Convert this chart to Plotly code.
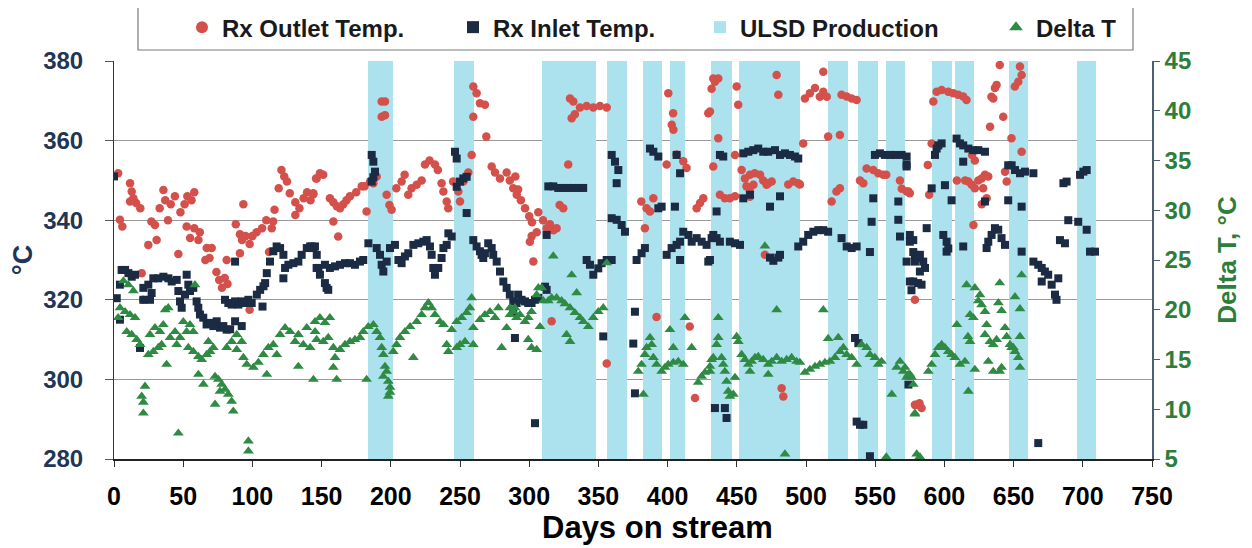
import plotly.graph_objects as go

# ---------------- data ----------------
# ULSD production periods (days on stream)
ulsd_start = [183.5, 245.7, 309.2, 356.2, 382.2, 401.9, 431.4, 451.6, 515.9, 537.6, 557.8, 591.0, 607.7, 646.7, 695.8]
ulsd_end   = [201.6, 260.1, 348.3, 370.7, 396.0, 412.7, 446.5, 495.7, 530.3, 552.0, 571.5, 605.5, 621.4, 660.4, 709.5]

# Rx Outlet Temp. (day, degC)
outlet_points = [
    (3,351.8),(4.3,340.1),(6,338.4),(11.6,349.3),(12.8,347.2),(14,345.5),(11.6,344.7),(16,344.3),(19,343),(20,326.7),
    (21,320),(24.8,333.8),(30.8,335),(27,339.7),(29.6,338.8),(35.7,347.6),(33,343),(37,345),(39,340),(41,344),(44,346),
    (46.5,331.5),(48,342),(51,344),(53,346),(56,345),(58,347),(55,335.5),(52.5,338.4),(58,338),(62,337),(61,335),(67,333),
    (66,330),(69,330.5),(70.6,333),(74,327),(76,325),(80,325.5),(82,324),(78,323),(81.4,330),(93.5,344),(88,339),(91,336.5),
    (92.5,335),(95,336),(98,334),(100,336),(103,337),(107,338),(110,340),(112,332),(98,317.5),(91,331.7),(116,342.6),
    (115,339.7),(114,338),(119,348),(121,352.6),(123,351),(125,349.7),(127,346.8),(131,344.5),(134,343),(137,345.5),
    (139.5,347),(142,345),(144,346.5),(146,350.5),(131,341.3),
    (146.4,350.5),(148.8,351.8),(151.2,351.4),(144,346.8),(156,345.5),(158.5,344.5),(161,343.5),(163.3,343),(165.7,344),
    (168,345),(158.5,339.7),(162,335.9),(170.5,346),(175,347),(179,348.5),(181,348.5),(182.5,342.2),(185,349.7),(187.4,349.3),
    (189.8,351),(193.4,369.8),(195.8,369.8),(193.4,366),(195.8,366.4),(197,346.4),(199,343.8),(200.6,342.6),(204,348),
    (207.8,349.7),(210,351.4),(212.6,346.4),(215,348),(218.7,348.9),(222.3,350),(224.7,354),(228,355),(231.9,354),(234,352.6),
    (236.7,349.3),(238,347.2),(240.4,344.7),(241.5,343),(245,349.7),(248.8,347.2),(250,344.7),(252.4,349.7),(256,352),
    (258.4,356.4),(259.6,373.6),(262,371.9),(264.4,369.4),(268,369),(259.6,366),(269,361),(272.9,353.5),(275.3,352),
    (278.9,350.5),(283.7,352),(286,350),(288.5,348),(291,346.4),
    (290,351),(292,347.7),(294,345),(297,343),(300,341),(302,339.5),(301.8,336),(300.5,334.6),(303,329.6),(306.6,342),
    (310,340),(312.6,338),(315,339),(317.5,337.5),(319.8,338),(305.4,337),(316.2,314.6),(322,343.8),(324.6,343),(328.2,354),
    (329.5,370.6),(331.9,369.8),(333,366.6),(336.7,368.3),(341.5,368.7),(346.3,368.3),(351.1,368.7),(356,368.3),(330.7,365.6),
    (356,304),(381,344.7),(384.8,343),(387.3,342.2),(389.7,345.5),(383.6,338),(392,315.7),(400.5,371.9),(404,366.9),(403,364),
    (404.2,362.7),(399.3,354),(406.5,356.5),(411.3,354.8),(413.7,353.1),(416,313.3),(419.8,295.3),(421,343),(423.4,344.3),
    (425.8,345.5),(429.4,366.9),(431.8,373),(434.2,374.8),
    (433,375.6),(436.6,375.6),(430.6,367.3),(436.6,360.6),(433,353.5),(437.8,346.4),(441.4,345.5),(445,345.5),(448.7,346),
    (448.7,356.4),(449.9,373.6),(451,369),(453.5,352.6),(455.9,350.5),(459.5,351.4),(463,351.8),(466.8,351.4),(469.1,350),
    (472.7,349.3),(475.2,349.7),(457,348.5),(459.5,347.2),(462,348.9),(471.5,348.9),(459.5,345.9),(470.3,331.3),(478.8,376.5),
    (480,371.5),(482.4,297.8),(483.6,295.7),(487.2,349),(490.8,349.7),(494.4,349.3),(495.6,349),(498,359.3),(499.2,370.6),
    (502.8,371.9),(506.5,373.2),(510,371),(512.5,372.3),(515,371),(512.5,377.3),(516,361),(524.5,361.4),(518.5,344.7),
    (522,347.2),(524.5,348),(525.7,371.5),(529.4,371.1),(533,370.6),(536.6,370.2),(539,350),(541.4,349.3),(543.8,353),
    (548.6,352.6),(552.2,351.8),(555.8,351.4),(558,351.4),(567.9,350),(569.2,347.9),(572.8,347.2),(575,346.8),(578.7,320),
    (578.7,293.6),
    (574,347.2),(580.5,293.6),(583.5,292.8),(582,294),(589,346.4),(588,353.9),(590.8,359.3),(592,369.8),(594.4,372.3),
    (598,372.7),(602.8,372.3),(606.4,371.9),(610,371.5),(613.6,371.1),(616,370.2),(609,350),(615,350),(617.3,349.7),
    (619.7,348.9),(622,348),(624.5,350),(626.9,350.5),(629.3,351.4),(631.7,351),(620,356.4),(622,355),(621,338.8),(628,348),
    (630.5,345.5),(627,344),(633,363.5),(635.3,370.6),(636.5,373.2),(640,379),(634,371),(637.7,374),(642.5,366),(643.8,352.2),
    (645,349.7),(648.5,360.6),(650.9,373.6),(654.6,378.6),(655.8,376.5),(655.8,357.2),(653.4,374.8),
]

# Rx Inlet Temp. (day, degC)
inlet_points = [
    (0,351),(2,320.4),(5.5,327.5),(8,327.5),(10.4,326.7),(12.8,325.8),(15.2,326.3),(4.3,323.8),(4.3,315),(18.8,307.9),
    (21.2,323),(24.8,323.8),(28.4,325.4),(32,325.4),(35.7,325.8),(39.3,325.4),(41.7,324.6),(45.3,325),(21.2,320),(26,320),
    (27.2,321.7),(46.5,322.2),(47.7,319.6),(48.9,318),(51.3,321.3),(52.5,326.3),(53.7,323.8),(54.9,322.2),(57.3,323),
    (59.7,319.6),(60.9,318),(62.1,316.3),(64.5,315.5),(66.9,313.8),(69.4,314.2),(71.8,313.4),(74.2,314.6),(76.6,313),
    (79,313.4),(81.4,312.5),(83.9,312.6),(87.5,314.6),(87.5,329.6),(80.2,320),(82.6,319.2),(85,318.8),(87.5,319.6),
    (89.9,318.8),(92.3,319.6),(94.7,319.2),(97.1,320),(99.5,319.2),(103.2,321.3),(105.6,322.5),(108,323.4),(109.2,324.2),
    (110.4,326.7),(92.3,313.4),(107.3,318.3),(112.7,329.6),(115.1,332.2),(117.5,333.4),(120,333),(122.4,331.3),(123.6,328),
    (122.4,325.4),(126,328.8),(129.6,329.2),(133.2,329.6),(135.6,331.3),(139.3,333),(141.7,333.4),(144.1,333),(146.5,331.3),
    (147.7,328),
    (142.8,333.4),(145.2,333.4),(146.4,328),(148.8,326.3),(152.4,324.2),(153.6,323),(154.8,322.5),(152.4,328.8),(156,328),
    (159.7,328.4),(163.3,328.8),(166.9,329.2),(170.5,329.2),(174.1,328.8),(177.7,329.6),(180.1,330),(183.8,334.2),
    (186.2,356.4),(187.4,354.7),(188.6,352.2),(186.2,349.7),(187.4,350.8),(189.8,333),(192.2,331.3),(193.4,328.8),
    (194.6,327.1),(197,329.6),(199.4,333),(203,333.8),(205.5,330),(207.8,329.2),(210.2,330.9),(212.6,331.7),(216.3,333.8),
    (219.9,334.2),(223.5,334.6),(225.9,335),(228.3,333.4),(229.5,331.3),(230.7,328),(231.9,326.3),(234.3,328),(236.7,330.5),
    (238,333),(240.4,333.8),(241.6,336.7),(244,335.9),(246.4,357.2),(247.6,355.5),(247.6,348.4),(250,349.7),(252.4,350.5),
    (254.8,350.9),(254.8,341.8),(259.6,335),(262,333.4),(264.4,332.2),(265.6,331.3),(266.8,330.5),(268,331.7),(270.4,334.2),
    (272.9,333),(274,331.3),(276.5,329.6),(278.9,327.1),(281.3,324.6),(283.7,323),(286,321.3),(288.5,319.6),(290.9,319.2),
    (289.7,310.4),(288.5,317),
    (292,321.3),(294.5,320),(297,319.6),(299.3,319.2),(301.7,319.2),(304.2,320),(306.6,320.5),(304.2,289),(312.6,336.3),
    (311.4,323.3),(312.6,322.5),(313.8,348.5),(317.4,348.5),(321,348.1),(324.6,348.1),(328.2,348.1),(331.9,348.1),
    (335.5,348.1),(339,348.1),(341.5,330),(343.9,328.8),(346.3,326.3),(349.9,327.9),(352.3,329.2),(356,330),(359.6,330),
    (353.5,310.8),(359.6,356.4),(362,354.7),(364.4,352.6),(363.2,349.3),(359.6,340.5),(363.2,340.1),(366.8,338.8),
    (369.2,337.1),(376.4,317),(375.2,309),(376.4,296.5),(377.6,330),(381.2,331.7),(383.6,333),(387.3,358),(389.7,357.2),
    (393.3,356),(393.3,343),(395.7,343.4),(399.3,331.3),(402.9,333),(406.5,333.8),(409,334.6),(411.3,337.1),(415,336.3),
    (417.4,334.6),(421,335.5),(424.6,334.6),(428.2,333.8),(431.8,335.5),(405.3,343.4),(409,330),(429.4,329.6),(406.5,356.4),
    (409,351.8),(434.2,292.8),
    (433,336.3),(435.4,335.5),(437.8,334.6),(430.6,330),(435.4,342.2),(437.8,356.4),(440.2,356),(441.4,292.8),(442.6,290.3),
    (445,334.6),(448.7,334.2),(452.3,333.8),(454.7,356.8),(458.3,357.2),(461.9,357.6),(465.5,358),(469.1,357.2),(472.7,357.2),
    (477.6,357.6),(481.2,356.4),(484.8,356.8),(488.4,356.4),(492,356),(494.4,355.5),(454.7,345.5),(459.5,346.4),(474,343.4),
    (481.2,346),(474,330.6),(476.4,329.8),(480,330.6),(481.2,331.3),(494.4,333.4),(498,334.6),(501.6,336.3),(505.3,337.1),
    (508.9,337.5),(512.5,337.5),(516,337.1),(525.7,335.5),(529.4,333.4),(533,333),(536.6,333.4),(535.4,310.4),(537.8,309.1),
    (536.6,289.4),(539,288.6),(541.4,288.6),(546.2,280.7),(546.2,332),(548.6,345.5),(547.4,339.6),(549.8,356.4),(553.4,356.8),
    (557,356.4),(560.7,356.4),(564.3,356.4),(569.1,356.4),(572.7,354),(566.7,344.7),(566.7,340.1),(567.9,335.9),(575,334.6),
    (577.5,332),(578.7,329.6),(575,324.6),(576.2,322.4),(574,298.7),
    (572.7,356),(572.7,353.5),(575,336.3),(577.5,335),(578.7,331.3),(582.3,331.3),(584.7,329.6),(586,328),(581,330.5),
    (582.3,327.1),(577.5,324.6),(581,324.2),(583.5,323.8),(572.7,329.6),(587.2,338),(590.8,348),(593.2,356.4),(595.6,358.8),
    (598,359.3),(594.4,358),(600.4,348.8),(599.2,336.3),(601.6,334.6),(602.8,332.9),(601.6,332.1),(605.2,345),(608.8,360.5),
    (611.2,359.3),(613.6,358.8),(617.3,358),(620.9,357.6),(624.5,357.6),(629.3,357.2),(613.6,354.7),(613.6,333.4),
    (629.3,344.7),(630.5,333),(631.7,334.6),(634.1,336.3),(636.5,338),(638.9,337.6),(641.3,335.5),(643.8,333.8),
    (646.1,353.8),(648.6,353.8),(651,352.6),(654.6,351.8),(658.2,352.2),(664.3,351.8),(646.1,345),(655.8,343.4),
    (655.8,332.1),(664.3,329.6),(667.8,328.8),(670.3,328),(672.6,327.1),(675,326.3),(677.5,323.8),(679.9,321.3),(681,320),
    (670.3,324.6),(682.3,325.4),(667.8,284),(686,349.3),(688.3,349.7),(683.5,335),(687.1,334.2),(689.5,340),(696.7,339.6),
    (702.8,337.6),(698,351.4),(700.4,352.2),(702.8,352.6),(705.2,332.1),(708.8,332.1),
]

# Delta T (day, degC) - right axis
delta_points = [
    (4.3,20.2),(3,19.2),(6.8,22.9),(10.4,22.5),(14,21.9),(8,19.8),(11.6,19.5),(15.2,19.2),(9.2,17.8),(12.8,17.5),(16.4,17),
    (18.8,16.5),(22.4,12.3),(20,11.3),(21.2,10.7),(21.2,9.6),(24.8,15.5),(28.4,15.8),(32,16.2),(34.4,16.5),(26,17.5),
    (29.6,18.2),(33.2,17.8),(35.6,18.5),(37,20),(39.2,20.2),(38,14.5),(40.5,17.2),(44.1,17.8),(45.3,16.5),(47.7,17.2),
    (50.1,18.8),(46.5,7.6),(52.5,17.8),(54.9,18.5),(57.3,17.8),(53.7,16.2),(57.3,15.8),(58.5,22.5),(61,15.3),(63.4,15),
    (67,15.5),(69.4,15.8),(71.8,16.2),(68.2,16.8),(61,13.5),(64.6,12.5),(73,13.3),(75.4,13),(77.8,12.5),(80.2,12),(82.6,11.5),
    (85,10.8),(76.6,11.8),(86.2,9.8),(73,10.5),(81.4,16.2),(85,16.8),(88.7,17.5),(92.3,16.8),(88.7,16),(93.5,15.2),(95.9,14.5),
    (100.7,14.2),(104.3,14.7),(107.9,15.5),(111.5,16.2),(115.1,16.5),(117.6,15.5),(97.1,6.8),(97.1,5.8),(110.4,13.5),
    (120,17.5),(123.6,18.2),(127.2,17.8),(130.8,16.8),(133.2,17.5),(136.8,16.5),(139.3,18.2),(141.7,16.2),(145.3,17.8),
    (133.2,14.3),(144.1,13),
    (145.2,18.8),(148.8,19.2),(152.4,18.7),(156,19.2),(146.4,17),(151.2,16.8),(154.8,17.2),(158.5,16.2),(159.7,15.2),
    (158.5,14.2),(160.9,13),(163.3,16),(166.9,16.5),(170.5,16.8),(174.1,17),(177.7,17.2),(180.1,17.8),(182.5,13),(183.7,18.3),
    (187.4,18.5),(189.8,17.8),(192.2,17.2),(193.4,16.2),(194.6,15.5),(195.8,14.3),(197,13.8),(194.6,13.3),(198.2,12.8),
    (199.4,12.2),(198.2,11.3),(199.4,11.7),(201.8,15.8),(204.2,16.5),(206.6,17.2),(210.2,17.8),(213.9,18.3),(216.3,15.2),
    (218.7,18.8),(222.3,19.5),(224.7,20.2),(227.1,20.7),(229.5,20.2),(231.9,19.5),(235.5,18.8),(238,18.5),(240.4,16.5),
    (241.6,15.8),(244,18),(247.6,18.8),(251.2,19.2),(254.8,19.7),(257.2,20.2),(258.4,21.2),(247.6,16.2),(250,16.5),
    (253.6,16.8),(259.6,16.5),(259.6,18.2),(264.4,19),(268,19.5),(271.7,19.8),(275.3,19.2),(277.7,20.2),(280.1,16.2),
    (283.7,18.2),(286.1,19.5),(289.7,20.2),
    (286.1,20.2),(288.5,19.8),(290.9,19.2),(293.3,19.5),(296.9,18.8),(299.3,19.2),(301.7,19.8),(305.4,21.5),(306.6,22.2),
    (309,22.2),(299.3,17),(301.7,16.2),(305.4,16),(307.8,18.3),(310.2,20.9),(313.8,20.9),(316.2,21.2),(319.8,21.2),
    (323.4,20.9),(325.8,20.6),(329.5,20.2),(333,19.7),(336.7,19.2),(339.1,18.8),(342.7,18.3),(346.3,19.2),(349.9,19.8),
    (353.5,20.2),(317.4,25.4),(330.7,23.5),(334.3,21.7),(327,17.5),(329.5,16.8),(356,24.7),(378.8,13.8),(381.2,14.5),
    (383.6,15.5),(384.8,16.2),(387.3,17.2),(388.5,16.5),(389.7,15.2),(392,14.5),(382.5,11.5),(395.7,13.8),(398.1,14.2),
    (400.5,14.5),(404.1,14.7),(407.7,14.8),(411.3,14.5),(401.7,18),(404.1,16.2),(412.5,19.2),(417.4,16.2),(422.1,12.7),
    (424.6,13.3),(427,13.7),(430.6,14.3),(431.8,15),
    (430.6,13.8),(433,15.2),(435.4,16.5),(436.6,17.2),(439,15.2),(440.2,14.5),(441.4,13.8),(442.6,12.8),(436.6,19.2),
    (443.8,11.8),(445,11.3),(447.5,11.5),(448.7,13.2),(449.9,17.3),(451.1,16.8),(453.5,15.5),(455.9,15),(458.3,14.5),
    (460.7,14.8),(463.1,15.2),(465.5,15.3),(469.1,15),(472.7,14.5),(475.2,14.8),(478.8,15.2),(482.4,14.8),(486,15),
    (489.6,15.2),(493.2,14.8),(495.6,14.7),(459.5,13.8),(472.7,13.5),(470.3,26.4),(478.8,20),(484.8,5.5),(499.2,13.7),
    (502.8,14),(506.5,14.3),(510,14.5),(513.7,14.7),(517.3,14.8),(520.9,15.2),(524.5,15.8),(527,16.2),(529.4,15.5),(533,15.2),
    (536.6,14.5),(512.5,20),(516,17.1),(523.3,17.2),(540.2,16.5),(543.8,16.2),(546.2,15.5),(549.8,15.2),(552.2,14.5),
    (554.6,14.8),(558,5.2),(562,11.5),(565.5,14.2),(567.9,14.8),(570.3,13.8),(572.7,13.2),(575.1,13.5),(577.5,12.5),
    (578.7,9.5),
    (571.5,14.2),(573.9,13.5),(576.3,13.2),(578.7,9.6),(580,5.5),(582.3,5.2),(581,5),(588.4,13.8),(590.8,14.5),(593.2,15.5),
    (595.6,16.2),(598,16.5),(600.4,16.2),(602.8,15.8),(605.2,15.5),(607.6,15.2),(611.2,14.5),(614.8,14.8),(617,17.3),
    (618.5,16.8),(609,18.5),(616,22.5),(622,22.2),(625.7,21.5),(626.9,20.5),(624.5,20.9),(629.3,19.8),(618.5,19.5),
    (620.9,19.2),(630.5,18.5),(629.3,17.5),(632.9,16.8),(635.3,16.5),(637.7,17),(631.7,14.8),(635.3,13.8),(640,13.8),
    (641.3,14.2),(622,14),(617.3,11.8),(640,22.7),(639,20.7),(641.3,19.9),(643.8,18.2),(645,17.3),(647.4,16.5),(649.8,16.2),
    (651,15.8),(653.4,15.2),(654.6,14.2),(651,21.3),(654.6,20.1),(655.8,23.5),(654.6,17.3),(648.6,16.2),
]

x_ticks = list(range(0, 751, 50))
left_ticks = [280, 300, 320, 340, 360, 380]
right_ticks = [5, 10, 15, 20, 25, 30, 35, 40, 45]
x_title = "Days on stream"

# ---------------- styling ----------------
RED = "#d4504b"
NAVY = "#1b2b44"
GREEN = "#2f8a43"
CYAN = "#ace1ee"
LEFT_COL = "#1f3656"
RIGHT_COL = "#2e7d3b"
FONT = "Liberation Sans, Arial, sans-serif"

fig = go.Figure()

fig.add_trace(go.Bar(
    x=[(s + e) / 2 for s, e in zip(ulsd_start, ulsd_end)],
    width=[e - s for s, e in zip(ulsd_start, ulsd_end)],
    y=[left_ticks[-1] - left_ticks[0]] * len(ulsd_start),
    base=left_ticks[0],
    marker=dict(color=CYAN, line=dict(width=0)),
    name="ULSD Production", legend="legend3", yaxis="y",
))

fig.add_trace(go.Scatter(
    x=[p[0] for p in outlet_points], y=[p[1] for p in outlet_points],
    mode="markers", name="Rx Outlet Temp.", legend="legend",
    marker=dict(symbol="circle", size=8.5, color=RED, line=dict(width=0)),
    yaxis="y",
))
fig.add_trace(go.Scatter(
    x=[p[0] for p in inlet_points], y=[p[1] for p in inlet_points],
    mode="markers", name="Rx Inlet Temp.", legend="legend2",
    marker=dict(symbol="square", size=8, color=NAVY, line=dict(width=0)),
    yaxis="y",
))
fig.add_trace(go.Scatter(
    x=[p[0] for p in delta_points], y=[p[1] for p in delta_points],
    mode="markers", name="Delta T", legend="legend4",
    marker=dict(symbol="triangle-up", size=9.5, color=GREEN, line=dict(width=0)),
    yaxis="y2",
))

def legend_at(xpos):
    return dict(
        orientation="h", x=xpos, y=1.1406, xanchor="left", yanchor="top",
        font=dict(family=FONT, size=24, color="#1a1a1a", weight="bold"),
        bgcolor="rgba(0,0,0,0)", borderwidth=0, itemsizing="constant",
    )

fig.update_layout(
    width=1244, height=540,
    margin=dict(l=106, r=100, t=53, b=89, autoexpand=False),
    paper_bgcolor="white", plot_bgcolor="white",
    font=dict(family=FONT, color="black", size=20, weight="bold"),
    bargap=0,
    showlegend=True,
    legend=legend_at(0.0655),
    legend2=legend_at(0.3266),
    legend3=legend_at(0.5645),
    legend4=legend_at(0.8497),
    xaxis=dict(
        range=[0, 750], tickvals=x_ticks, ticktext=[str(v) for v in x_ticks],
        showgrid=False, zeroline=False,
        showline=True, linecolor="#222", linewidth=2,
        ticks="outside", ticklen=6, tickcolor="#333", tickwidth=1,
        tickfont=dict(family=FONT, size=25, color="black", weight="bold"),
        ticklabelstandoff=8,
        layer="below traces",
    ),
    yaxis=dict(
        range=[280, 380], tickvals=left_ticks,
        showgrid=True, gridcolor="#9a9a9a", gridwidth=1, zeroline=False,
        showline=True, linecolor="#333", linewidth=1,
        ticks="outside", ticklen=8, tickcolor="#555",
        tickfont=dict(family=FONT, size=24, color=LEFT_COL, weight="bold"),
        ticklabelstandoff=17,
        title=dict(text="°C", font=dict(family=FONT, size=27, color=LEFT_COL, weight="bold"), standoff=8),
        layer="below traces",
    ),
    yaxis2=dict(
        range=[5, 45], tickvals=right_ticks, overlaying="y", side="right",
        showgrid=False, zeroline=False,
        showline=True, linecolor="#4a6070", linewidth=1.5,
        ticks="outside", ticklen=6, tickcolor="#4a6070",
        tickfont=dict(family=FONT, size=24, color=RIGHT_COL, weight="bold"),
        title=dict(text="Delta T, °C", font=dict(family=FONT, size=26, color=RIGHT_COL, weight="bold"), standoff=28),
    ),
    annotations=[dict(
        text=x_title, xref="paper", yref="paper", x=0.5235, y=-0.171,
        xanchor="center", yanchor="middle", showarrow=False,
        font=dict(family=FONT, size=31, color="black", weight="bold"),
    )],
    shapes=[dict(
        type="rect", xref="paper", yref="paper",
        x0=0.0231, x1=0.9817, y0=1.0276, y1=1.1407,
        line=dict(color="#7a7a7a", width=1.2), fillcolor="rgba(0,0,0,0)", layer="below",
    )],
)

fig.write_html("out.html")
